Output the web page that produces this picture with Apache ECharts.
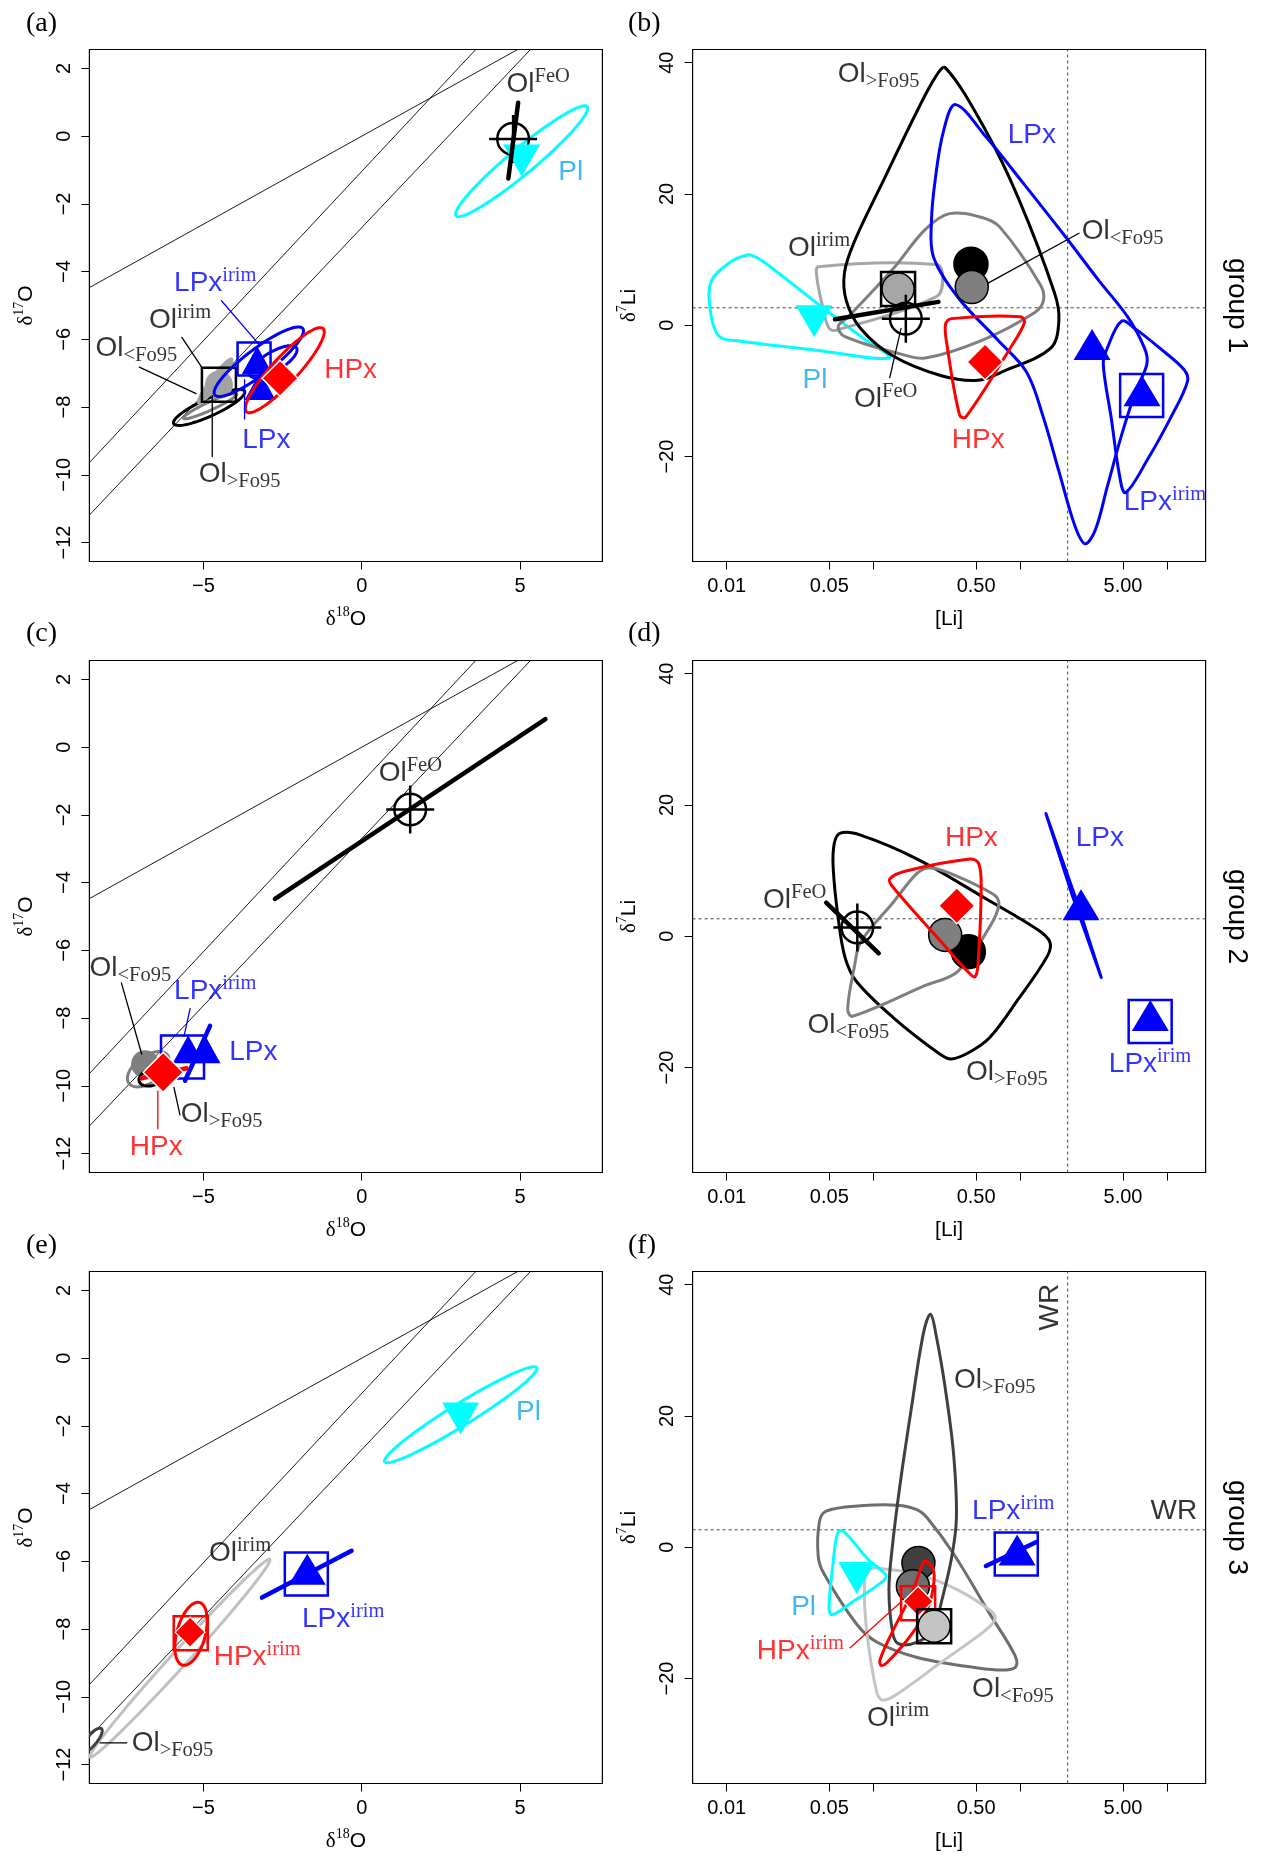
<!DOCTYPE html>
<html><head><meta charset="utf-8">
<script src="https://cdn.jsdelivr.net/npm/echarts@6/dist/echarts.min.js"></script>
<style>html,body{margin:0;padding:0;background:#fff}#c{width:1268px;height:1858px}</style>
</head><body><div id="c"></div>
<script>
const SANS = 'Liberation Sans, Arial, sans-serif';
const SERIF = 'Liberation Serif, Times New Roman, serif';
const K = '#000000', B = '#0000ff', R = '#ff0000', C = '#00ffff', PLC = '#14a5ea', G1 = '#7f7f7f';

// ---- axes ----
const O_XLIM = [-8.6, 7.6], O_YLIM = [-12.56, 2.56];
const O_XTICKS = [-5, 0, 5];
const O_YTICKS = [-12, -10, -8, -6, -4, -2, 0, 2];
const LI_XLIM = [0.00586, 18.27];
const LI_YLIM = [-36, 42];
const LI_XTICKS = [0.01, 0.05, 0.1, 0.5, 1, 5, 10];
const LI_XLABELS = [0.01, 0.05, 0.5, 5];
const LI_XLABEL_TEXT = ['0.01', '0.05', '0.50', '5.00'];
const LI_YTICKS = [-20, 0, 20, 40];

// ---- reference lines [slope, intercept] and whole rock ----
const TFL = [0.52, 0], YR = [1.0, -1.04], PCM = [0.987, -2.70];
const WR_LI = 2.1, WR_D7LI = 2.65;

// ---- panel (a) ----
const a_Pl_ell = [5.05, -0.74, 2.07, 1.61, 0.26, -0.29];
const a_OlGt_ell = [-4.82, -8.01, 1.12, 0.48, 0.12, -0.23];
const a_OlLt_ell = [-4.79, -7.97, 0.84, 0.36, 0.05, -0.11];
const a_OlIrim_ell = [-4.63, -7.23, 0.53, 0.66, 0.126, -0.088];
const a_LPx_ell = [-3.25, -6.66, 1.39, 0.98, 0.246, -0.307];
const a_LPxIrim_ell = [-2.79, -6.66, 0.73, 0.41, 0.16, -0.24];
const a_HPx_ell = [-2.43, -6.91, 1.21, 1.23, 0.30, -0.26];
const a_OlFeO_line = [[4.94, 0.99], [4.63, -1.25]];
const a_OlFeO = [4.78, -0.08];
const a_Pl = [5.05, -0.72];
const a_OlIrim = [-4.51, -7.34];
const a_LPxIrim = [-3.40, -6.58];
const a_LPx = [[-3.30, -6.62], [-3.21, -7.38]];
const a_HPx = [-2.58, -7.15];
const a_leaders = [[[-4.43, -4.86], [-3.25, -6.14], B], [[-5.68, -5.94], [-5.04, -6.84], K], [[-7.02, -6.82], [-5.23, -7.60], K], [[-3.70, -7.19], [-3.70, -8.35], B], [[-4.72, -7.66], [-4.72, -9.46], K]];
const a_labels = [[4.59, 1.53, 'OlFeO'], [6.22, -1.07, 'Pl', PLC], [-5.91, -4.36, 'LPxirim', B], [-6.70, -5.44, 'Olirim'], [-8.39, -6.27, 'OlLt'], [-1.17, -6.92, 'HPx', R], [-3.76, -9.0, 'LPx', B], [-5.13, -10.0, 'OlGt']];

// ---- panel (b) ---- [Li (ppm), d7Li]
const b_OlGt_hull = [[0.309,39.2],[0.583,29.6],[0.968,19.4],[1.71,4.9],[1.83,0.7],[1.61,-3.5],[0.752,-7.1],[0.514,-8.4],[0.290,-7.7],[0.136,-4.7],[0.0817,-0.5],[0.0653,3.7],[0.0634,8.0],[0.0743,12.8],[0.119,22.4],[0.199,32.7],[0.264,37.8]];
const b_LPx_hull = [[0.362,33.6],[0.583,28.7],[1.033,21.8],[1.945,14.0],[3.44,6.75],[5.37,1.3],[7.01,-3.5],[7.28,-5.9],[6.10,-10.1],[4.89,-16.75],[3.91,-24.6],[3.24,-31.2],[2.76,-33.3],[2.355,-30.6],[1.828,-22.2],[1.419,-13.7],[1.099,-7.1],[0.705,-2.3],[0.374,4.3],[0.256,10.4],[0.248,15.8],[0.264,22.4],[0.300,29.6]];
const b_LPxIrim_hull = [[4.89,0.6],[6.10,-0.6],[8.91,-3.5],[13.06,-6.8],[13.74,-8.6],[10.79,-13.7],[7.38,-20.4],[5.20,-25.5],[4.73,-22.8],[4.17,-14.3],[3.67,-5.9],[3.91,-3.5]];
const b_OlIrim_hull = [[0.0422,8.9],[0.270,9.25],[0.296,7.4],[0.270,4.4],[0.0547,-0.8],[0.0493,-0.3],[0.0445,3.3],[0.0411,7.4]];
const b_OlLt_hull = [[0.330,17.0],[0.547,16.4],[0.728,14.9],[1.374,6.1],[1.435,3.7],[1.247,1.9],[0.547,-2.3],[0.2254,-5.0],[0.1538,-4.4],[0.0634,-1.7],[0.0575,-0.2],[0.0675,1.3],[0.1355,8.55],[0.2254,14.6]];
const b_Pl_hull = [[0.0138,10.7],[0.0104,9.5],[0.00782,6.6],[0.00771,2.5],[0.00887,-1.7],[0.01216,-2.4],[0.0406,-3.8],[0.1274,-5.0],[0.0817,-1.7],[0.0461,2.5],[0.0190,9.2],[0.0157,10.4]];
const b_HPx_hull = [[0.340,1.0],[1.0,1.3],[1.067,0.4],[0.853,-3.5],[0.425,-14.0],[0.386,-13.7],[0.319,-3.5],[0.309,0.1]];
const b_OlFeO_line = [[0.0547, 0.9], [0.2767, 3.55]];
const b_Pl = [0.0394, 0.6];
const b_OlIrim = [0.147, 5.5];
const b_OlGt = [0.461, 9.3];
const b_OlLt = [0.467, 5.8];
const b_OlFeO = [0.166, 1.0];
const b_HPx = [0.575, -5.6];
const b_LPx = [3.08, -2.95];
const b_LPxIrim = [6.70, -10.7];
const b_LPxIrimTri = [6.74, -10.0];
const b_leaders = [[[0.129, -8.0], [0.154, -0.5], K], [[2.51, 14.0], [0.59, 6.3], K]];
const b_labels = [[0.0575, 38.2, 'OlGt'], [0.826, 28.85, 'LPx', B], [2.64, 14.3, 'OlLt'], [0.0264, 11.7, 'Olirim'], [0.0331, -8.4, 'Pl', PLC], [0.0743, -11.3, 'OlFeO'], [0.344, -17.6, 'HPx', R], [5.10, -27.05, 'LPxirim', B]];

// ---- panel (c) ----
const c_OlFeO_line = [[-2.74, -4.48], [5.80, 0.83]];
const c_OlFeO = [1.53, -1.84];
const c_OlLt_ell = [-6.74, -9.51, 0.61, 0.42, 0.25, -0.31];
const c_OlGt_ell = [-6.62, -9.74, 0.41, 0.12, 0.06, -0.24];
const c_OlLt = [-6.84, -9.36];
const c_HPx_line = [[-6.95, -9.78], [-5.53, -9.48]];
const c_HPx = [-6.27, -9.60];
const c_LPxIrim = [-5.66, -9.15];
const c_LPx = [[-5.48, -8.92], [-4.95, -8.92]];
const c_LPx_line = [[-4.79, -8.23], [-5.58, -9.85]];
const c_leaders = [[[-7.59, -6.96], [-6.95, -9.06], K], [[-5.74, -10.86], [-5.93, -10.05], K], [[-6.44, -10.16], [-6.44, -11.27], R], [[-5.42, -7.72], [-5.61, -8.53], B]];
const c_labels = [[0.55, -0.79, 'OlFeO'], [-8.58, -6.55, 'OlLt'], [-5.91, -7.23, 'LPxirim', B], [-4.17, -9.03, 'LPx', B], [-5.70, -10.86, 'OlGt'], [-7.31, -11.83, 'HPx', R]];

// ---- panel (d) ----
const d_OlGt_hull = [[0.0594,15.7],[0.0817,15.4],[0.1986,11.75],[0.583,5.7],[1.33,0.9],[1.589,-0.9],[1.531,-3.0],[0.968,-9.6],[0.621,-15.4],[0.453,-17.65],[0.340,-18.7],[0.281,-17.9],[0.1355,-12.35],[0.0766,-6.9],[0.0641,-3.3],[0.0575,2.7],[0.0531,10.5],[0.0541,14.2]];
const d_OlLt_hull = [[0.240,10.4],[0.330,9.6],[0.662,6.3],[0.714,4.8],[0.621,1.5],[0.374,-5.4],[0.2254,-7.5],[0.0719,-12.2],[0.0667,-11.1],[0.0743,-4.5],[0.0817,-0.9],[0.1355,5.1],[0.1986,9.6]];
const d_HPx_hull = [[0.1288,8.7],[0.164,9.9],[0.453,11.75],[0.520,11.1],[0.541,7.5],[0.514,-4.5],[0.489,-6.2],[0.4385,-5.4],[0.290,-0.9],[0.1355,7.5]];
const d_LPx_lens = [[1.493,18.7],[2.356,6.13],[3.556,-6.3],[2.253,6.27]];
const d_OlFeO = [0.0776, 1.33];
const d_OlFeO_line = [[0.0476, 5.1], [0.1086, -2.6]];
const d_OlLt = [0.3076, 0.2];
const d_OlGt = [0.4426, -2.36];
const d_HPx = [0.369, 4.65];
const d_LPx = [2.59, 4.8];
const d_LPxIrim = [7.66, -13.0];
const d_LPxIrimTri = [7.68, -12.1];
const d_labels = [[0.01783, 5.36, 'OlFeO'], [0.309, 14.9, 'HPx', R], [2.40, 14.9, 'LPx', B], [0.0358, -13.6, 'OlLt'], [0.4295, -20.8, 'OlGt'], [4.04, -19.6, 'LPxirim', B]];

// ---- panel (e) ----
const e_Pl_ell = [3.125, -1.67, 2.4, 1.39, 0.184, -0.275];
const e_OlIrim_ell = [-5.74, -8.86, 2.84, 2.92, 0.18, -0.165];
const e_OlGt_ell = [-8.55, -11.3, 0.33, 0.36, 0.13, -0.10];
const e_HPxIrim_ell = [-5.39, -8.14, 0.24, 0.93, 0.45, -0.05];
const e_LPxIrim_line = [[-3.15, -7.07], [-0.32, -5.69]];
const e_LPxIrim = [-1.75, -6.37];
const e_LPxIrimTri = [-1.72, -6.23];
const e_HPxIrim = [-5.40, -8.12];
const e_HPxIrimDia = [-5.42, -8.09];
const e_Pl = [3.125, -1.78];
const e_leaders = [[[-8.26, -11.36], [-7.42, -11.36], K]];
const e_labels = [[4.89, -1.60, 'Pl', PLC], [-4.81, -5.77, 'Olirim'], [-1.87, -7.73, 'LPxirim', B], [-4.66, -8.85, 'HPxirim', R], [-7.25, -11.38, 'OlGt']];

// ---- panel (f) ----
const f_OlGt_hull = [[0.2443,35.5],[0.269,31.9],[0.309,24.0],[0.351,14.2],[0.367,4.45],[0.340,-1.65],[0.290,-8.35],[0.256,-12.6],[0.1986,-14.45],[0.1493,-14.75],[0.1355,-13.2],[0.1274,-6.5],[0.1355,0.8],[0.1538,10.55],[0.1803,20.9],[0.2183,32.5]];
const f_OlLt_hull = [[0.0476,5.5],[0.0817,6.3],[0.1445,6.4],[0.1986,5.7],[0.2323,4.45],[0.351,-1.0],[0.621,-10.2],[0.910,-16.3],[0.938,-18.1],[0.802,-18.7],[0.514,-18.4],[0.1986,-16.8],[0.1052,-14.45],[0.0766,-11.7],[0.0461,-4.1],[0.0420,-1.35],[0.0428,3.85]];
const f_OlIrim_hull = [[0.1052,-3.2],[0.1986,-4.1],[0.374,-6.5],[0.621,-9.6],[0.6745,-10.8],[0.583,-12.6],[0.290,-17.5],[0.1445,-22.4],[0.1156,-23.3],[0.1052,-22.1],[0.0897,-12.6],[0.0869,-5.3],[0.0927,-3.5]];
const f_Pl_hull = [[0.0587,2.5],[0.0653,2.0],[0.0927,-1.95],[0.1211,-4.2],[0.1156,-5.2],[0.0719,-8.35],[0.0524,-10.3],[0.0498,-9.3],[0.0531,-2.3],[0.0558,1.4]];
const f_HPxIrim_hull = [[0.2244,-2.14],[0.2495,-2.9],[0.2588,-4.9],[0.2366,-9.0],[0.1774,-13.6],[0.1233,-17.6],[0.1127,-18.0],[0.1109,-17.1],[0.1368,-12.55],[0.1824,-7.0],[0.2133,-2.9]];
const f_OlGt = [0.2023, -2.39];
const f_OlLt = [0.1854, -5.95];
const f_HPxIrim = [0.2014, -8.54];
const f_HPxIrimDia = [0.2014, -8.23];
const f_OlIrim = [0.2588, -12.04];
const f_Pl = [0.0769, -4.68];
const f_LPxIrim_line = [[0.583, -2.87], [1.288, 0.79]];
const f_LPxIrim = [0.938, -1.04];
const f_LPxIrimTri = [0.951, -0.43];
const f_leaders = [[[0.0693, -15.33], [0.1517, -8.48], R]];
const f_labels = [[0.3556, 25.4, 'OlGt'], [0.473, 5.4, 'LPxirim', B], [0.0277, -9.27, 'Pl', PLC], [0.01618, -15.97, 'HPxirim', R], [0.473, -21.76, 'OlLt'], [0.0909, -26.1, 'Olirim'], [1.609, 36.5, 'WRv'], [7.76, 5.37, 'WR']];

// ---------------- builders ----------------
function ell(p) {
  const [cx, cy, ax, ay, bx, by] = p; const out = [];
  for (let k = 0; k < 72; k++) { const t = k / 72 * 2 * Math.PI; out.push([cx + ax * Math.cos(t) + bx * Math.sin(t), cy + ay * Math.cos(t) + by * Math.sin(t)]); }
  return out;
}
const S = (pts, color, lw, extra) => Object.assign({pts, color, lw: lw || 3, closed: true, smooth: 0.35}, extra || {});
const E = (p, color, lw, extra) => Object.assign({pts: ell(p), color, lw: lw || 3, closed: true, smooth: 0}, extra || {});
const L = (pts, color, lw) => ({pts, color, lw: lw || 1.3, closed: false, smooth: 0});
const LEAD = arr => arr.map(l => L([l[0], l[1]], l[2], 1.3));

const TRANSP = 'rgba(0,0,0,0)';
const MK = {
  feo: {symbol: 'path://M83,50A33,33,0,1,1,17,50A33,33,0,1,1,83,50ZM0,50L100,50M50,0L50,100', size: 48, fill: TRANSP, stroke: K, bw: 2.5},
  triC: {symbol: 'triangle', size: [37, 32], fill: C, rot: 180},
  sqK: {symbol: 'rect', size: 34, fill: TRANSP, stroke: K, bw: 2.5},
  sqBs: {symbol: 'rect', size: 33, fill: TRANSP, stroke: B, bw: 2.5},
  sqB: {symbol: 'rect', size: 43, fill: TRANSP, stroke: B, bw: 2.5},
  sqRs: {symbol: 'rect', size: 34, fill: TRANSP, stroke: R, bw: 2.5},
  triB: {symbol: 'triangle', size: [37, 31], fill: B},
  triBs: {symbol: 'triangle', size: [31, 28], fill: B},
  diaR: {symbol: 'diamond', size: [36, 36], fill: R, stroke: '#fff', bw: 1.5},
  diaRc: {symbol: 'diamond', size: [40, 40], fill: R, stroke: '#fff', bw: 1.5},
  diaRs: {symbol: 'diamond', size: [30, 30], fill: R, stroke: '#fff', bw: 1.2},
  cK: {symbol: 'circle', size: 34, fill: K, stroke: K, bw: 1.5},
  cG: {symbol: 'circle', size: 33, fill: G1, stroke: K, bw: 1.5},
  cGn: {symbol: 'circle', size: 28, fill: G1},
  cLn: {symbol: 'circle', size: 28, fill: '#a3a3a3'},
  cL: {symbol: 'circle', size: 32, fill: '#a6a6a6', stroke: K, bw: 1.5},
  cDf: {symbol: 'circle', size: 33, fill: '#404040', stroke: K, bw: 1.5},
  cGf: {symbol: 'circle', size: 33, fill: '#6e6e6e', stroke: K, bw: 1.5},
  cLf: {symbol: 'circle', size: 32, fill: '#c4c4c4', stroke: K, bw: 1.5}
};

const RICH = {
  m: {fontFamily: SANS, fontSize: 28, lineHeight: 36, verticalAlign: 'middle'},
  sp: {fontFamily: SERIF, fontSize: 20.5, lineHeight: 18, verticalAlign: 'top'},
  sb: {fontFamily: SERIF, fontSize: 20.5, lineHeight: 18, verticalAlign: 'bottom'}
};
const LABEL_TEXT = {
  OlFeO: '{m|Ol}{sp|FeO}', Olirim: '{m|Ol}{sp|irim}', OlLt: '{m|Ol}{sb|<Fo95}', OlGt: '{m|Ol}{sb|>Fo95}',
  LPx: '{m|LPx}', LPxirim: '{m|LPx}{sp|irim}', HPx: '{m|HPx}', HPxirim: '{m|HPx}{sp|irim}', Pl: '{m|Pl}', WR: '{m|WR}', WRv: '{m|WR}'
};

const series = [];
let zc = 1;
const isLiPanel = gi => gi % 2 === 1;
const X = (gi, x) => isLiPanel(gi) ? Math.log10(x) : x;

function addShapes(gi, list) {
  const li = isLiPanel(gi);
  series.push({
    type: 'custom', xAxisIndex: gi, yAxisIndex: gi, z: zc++, clip: true, silent: true, animation: false,
    data: list.map((s, k) => [k]),
    renderItem(params, api) {
      const s = list[params.dataIndex];
      const pts = s.pts.map(p => api.coord([li ? Math.log10(p[0]) : p[0], p[1]]));
      return {type: s.closed ? 'polygon' : 'polyline', shape: {points: pts, smooth: s.smooth || 0},
        style: {stroke: s.color, lineWidth: s.lw, fill: s.fill || 'none', lineCap: 'round', lineJoin: 'round'}};
    }
  });
}
function addMarkers(gi, name, pts) {
  const st = MK[name];
  series.push({
    type: 'scatter', xAxisIndex: gi, yAxisIndex: gi, z: zc++, silent: true, animation: false, clip: false,
    symbol: st.symbol, symbolSize: st.size, symbolRotate: st.rot || 0,
    itemStyle: {color: st.fill, borderColor: st.stroke || st.fill, borderWidth: st.bw || 0, opacity: 1},
    data: pts.map(p => [X(gi, p[0]), p[1]])
  });
}
function addLabels(gi, list) {
  series.push({
    type: 'scatter', xAxisIndex: gi, yAxisIndex: gi, z: zc++, silent: true, animation: false, clip: false,
    symbolSize: 1, itemStyle: {color: TRANSP},
    data: list.map(l => {
      const lab = {color: l[3] || K};
      if (l[2] === 'WRv') { lab.rotate = 90; lab.align = 'center'; }
      return {value: [X(gi, l[0]), l[1]], name: l[2], label: lab};
    }),
    label: {show: true, position: [0, 0], align: 'left', verticalAlign: 'middle', formatter: p => LABEL_TEXT[p.name], rich: RICH, fontFamily: SANS, fontSize: 28}
  });
}
function addRef(gi) {
  for (const [m, b] of [TFL, YR, PCM]) {
    series.push({type: 'line', xAxisIndex: gi, yAxisIndex: gi, z: zc++, silent: true, animation: false, symbol: 'none', clip: true,
      lineStyle: {color: '#000', width: 0.9}, data: [[O_XLIM[0], m * O_XLIM[0] + b], [O_XLIM[1], m * O_XLIM[1] + b]]});
  }
}
function addWR(gi) {
  const ls = {color: '#444', width: 1, type: [3, 3]};
  series.push({type: 'line', xAxisIndex: gi, yAxisIndex: gi, z: zc++, silent: true, animation: false, symbol: 'none', lineStyle: ls,
    data: [[Math.log10(LI_XLIM[0]), WR_D7LI], [Math.log10(LI_XLIM[1]), WR_D7LI]]});
  series.push({type: 'line', xAxisIndex: gi, yAxisIndex: gi, z: zc++, silent: true, animation: false, symbol: 'none', lineStyle: ls,
    data: [[Math.log10(WR_LI), LI_YLIM[0]], [Math.log10(WR_LI), LI_YLIM[1]]]});
}
function build(gi, layers) {
  for (const ly of layers) {
    if (ly.ref) addRef(gi);
    else if (ly.wr) addWR(gi);
    else if (ly.s) addShapes(gi, ly.s);
    else if (ly.m) addMarkers(gi, ly.m, ly.pts);
    else if (ly.l) addLabels(gi, ly.l);
  }
}

// ---- panels ----
build(0, [
  {ref: true},
  {s: [E(a_Pl_ell, C, 3)]},
  {m: 'feo', pts: [a_OlFeO]},
  {m: 'triC', pts: [a_Pl]},
  {s: [L(a_OlFeO_line, K, 4.5)]},
  {s: [E(a_OlGt_ell, K, 3), E(a_OlLt_ell, G1, 3), E(a_OlIrim_ell, '#a3a3a3', 2, {fill: '#a3a3a3'})]},
  {m: 'cLn', pts: [a_OlIrim]},
  {m: 'sqK', pts: [a_OlIrim]},
  {s: [E(a_LPx_ell, B, 3), E(a_LPxIrim_ell, B, 3)]},
  {m: 'sqBs', pts: [a_LPxIrim]},
  {m: 'triBs', pts: a_LPx},
  {s: [E(a_HPx_ell, R, 3)]},
  {m: 'diaR', pts: [a_HPx]},
  {s: LEAD(a_leaders)},
  {l: a_labels}
]);
build(1, [
  {wr: true},
  {s: [S(b_Pl_hull, C), S(b_OlIrim_hull, '#a6a6a6'), S(b_OlLt_hull, G1), S(b_OlGt_hull, K), S(b_LPx_hull, B), S(b_LPxIrim_hull, B), S(b_HPx_hull, R), L(b_OlFeO_line, K, 4.5)].concat(LEAD(b_leaders))},
  {m: 'triC', pts: [b_Pl]},
  {m: 'cK', pts: [b_OlGt]},
  {m: 'cG', pts: [b_OlLt]},
  {m: 'cL', pts: [b_OlIrim]},
  {m: 'sqK', pts: [b_OlIrim]},
  {m: 'feo', pts: [b_OlFeO]},
  {m: 'diaR', pts: [b_HPx]},
  {m: 'triB', pts: [b_LPx, b_LPxIrimTri]},
  {m: 'sqB', pts: [b_LPxIrim]},
  {l: b_labels}
]);
build(2, [
  {ref: true},
  {s: [L(c_OlFeO_line, K, 4.5)]},
  {m: 'feo', pts: [c_OlFeO]},
  {s: [E(c_OlLt_ell, G1, 3)]},
  {m: 'cGn', pts: [c_OlLt]},
  {s: [E(c_OlGt_ell, K, 3)]},
  {m: 'sqB', pts: [c_LPxIrim]},
  {m: 'triBs', pts: c_LPx},
  {s: [L(c_LPx_line, B, 4.5), L(c_HPx_line, R, 4.5)]},
  {m: 'diaRc', pts: [c_HPx]},
  {s: LEAD(c_leaders)},
  {l: c_labels}
]);
build(3, [
  {wr: true},
  {s: [S(d_OlGt_hull, K), S(d_OlLt_hull, G1)]},
  {m: 'cK', pts: [d_OlGt]},
  {m: 'cG', pts: [d_OlLt]},
  {s: [S(d_HPx_hull, R)]},
  {m: 'diaR', pts: [d_HPx]},
  {s: [S(d_LPx_lens, B, 3, {fill: B, smooth: 0})]},
  {m: 'triB', pts: [d_LPx, d_LPxIrimTri]},
  {m: 'sqB', pts: [d_LPxIrim]},
  {s: [L(d_OlFeO_line, K, 4.5)]},
  {m: 'feo', pts: [d_OlFeO]},
  {l: d_labels}
]);
build(4, [
  {ref: true},
  {s: [E(e_OlIrim_ell, '#c0c0c0', 3), E(e_OlGt_ell, '#404040', 3), E(e_Pl_ell, C, 3), E(e_HPxIrim_ell, R, 3)]},
  {m: 'sqRs', pts: [e_HPxIrim]},
  {m: 'diaRs', pts: [e_HPxIrimDia]},
  {s: [L(e_LPxIrim_line, B, 4.5)]},
  {m: 'sqB', pts: [e_LPxIrim]},
  {m: 'triB', pts: [e_LPxIrimTri]},
  {m: 'triC', pts: [e_Pl]},
  {s: LEAD(e_leaders)},
  {l: e_labels}
]);
build(5, [
  {wr: true},
  {s: [S(f_OlLt_hull, '#6e6e6e'), S(f_OlIrim_hull, '#c4c4c4'), S(f_OlGt_hull, '#404040'), S(f_Pl_hull, C)]},
  {m: 'cDf', pts: [f_OlGt]},
  {m: 'cGf', pts: [f_OlLt]},
  {s: [S(f_HPxIrim_hull, R)]},
  {m: 'sqRs', pts: [f_HPxIrim]},
  {m: 'diaRs', pts: [f_HPxIrimDia]},
  {m: 'cLf', pts: [f_OlIrim]},
  {m: 'sqK', pts: [f_OlIrim]},
  {m: 'triC', pts: [f_Pl]},
  {s: [L(f_LPxIrim_line, B, 4.5)]},
  {m: 'sqB', pts: [f_LPxIrim]},
  {m: 'triB', pts: [f_LPxIrimTri]},
  {s: LEAD(f_leaders)},
  {l: f_labels}
]);

// ---- grids & axes ----
const COLX = [89.4, 692.6], W = 513, H = 512, ROWY = [49.5, 660.5, 1271.5];
const minus = v => (v < 0 ? '\u2212' + Math.abs(v) : String(v));
function fmtLi(v) {
  for (let i = 0; i < LI_XLABELS.length; i++) if (Math.abs(Math.log10(LI_XLABELS[i]) - v) < 1e-6) return LI_XLABEL_TEXT[i];
  return '';
}
const grids = [], xAxes = [], yAxes = [];
const tick = {show: true, inside: false, length: 8, lineStyle: {color: '#000', width: 1}};
const labBase = {fontFamily: SANS, fontSize: 20, color: '#000'};
for (let gi = 0; gi < 6; gi++) {
  const col = gi % 2, row = Math.floor(gi / 2), li = col === 1;
  grids.push({left: COLX[col], top: ROWY[row], width: W, height: H, show: true, borderColor: '#000', borderWidth: 1.2, backgroundColor: TRANSP, containLabel: false});
  xAxes.push({type: 'value', gridIndex: gi, position: 'bottom',
    min: li ? Math.log10(LI_XLIM[0]) : O_XLIM[0], max: li ? Math.log10(LI_XLIM[1]) : O_XLIM[1],
    axisLine: {show: false, onZero: false}, splitLine: {show: false},
    axisTick: Object.assign({customValues: li ? LI_XTICKS.map(v => Math.log10(v)) : O_XTICKS}, tick),
    axisLabel: Object.assign({customValues: li ? LI_XLABELS.map(v => Math.log10(v)) : O_XTICKS, formatter: li ? fmtLi : minus, margin: 15}, labBase)});
  yAxes.push({type: 'value', gridIndex: gi, position: 'left',
    min: li ? LI_YLIM[0] : O_YLIM[0], max: li ? LI_YLIM[1] : O_YLIM[1],
    axisLine: {show: false, onZero: false}, splitLine: {show: false},
    axisTick: Object.assign({customValues: li ? LI_YTICKS : O_YTICKS}, tick),
    axisLabel: Object.assign({customValues: li ? LI_YTICKS : O_YTICKS, formatter: minus, margin: 15, rotate: 90}, labBase)});
}

// ---- titles and panel text ----
const graphic = [];
const LETTERS = ['(a)', '(b)', '(c)', '(d)', '(e)', '(f)'];
const LETTER_Y = [24, 634, 1246];
const TRICH = {
  d: {fontFamily: SERIF, fontSize: 21, lineHeight: 28, verticalAlign: 'middle'},
  s: {fontFamily: SERIF, fontSize: 14, lineHeight: 14, verticalAlign: 'top'},
  o: {fontFamily: SANS, fontSize: 21, lineHeight: 28, verticalAlign: 'middle'}
};
for (let gi = 0; gi < 6; gi++) {
  const col = gi % 2, row = Math.floor(gi / 2), li = col === 1;
  graphic.push({type: 'text', x: col ? 628 : 26, y: LETTER_Y[row], silent: true,
    style: {text: LETTERS[gi], fontFamily: SERIF, fontSize: 28, fill: '#000', align: 'left', verticalAlign: 'middle'}});
  graphic.push({type: 'text', x: COLX[col] + W / 2, y: ROWY[row] + H + 58, silent: true,
    style: {text: li ? '{o|[Li]}' : '{d|\u03b4}{s|18}{o|O}', rich: TRICH, fill: '#000', align: 'center', verticalAlign: 'middle'}});
  graphic.push({type: 'text', x: COLX[col] - 63, y: ROWY[row] + H / 2, rotation: Math.PI / 2, silent: true,
    style: {text: li ? '{d|\u03b4}{s|7}{o|Li}' : '{d|\u03b4}{s|17}{o|O}', rich: TRICH, fill: '#000', align: 'center', verticalAlign: 'middle'}});
  if (li) graphic.push({type: 'text', x: 1237, y: ROWY[row] + H / 2, rotation: -Math.PI / 2, silent: true,
    style: {text: 'group ' + (row + 1), fontFamily: SANS, fontSize: 28, fill: '#000', align: 'center', verticalAlign: 'middle'}});
}

const chart = echarts.init(document.getElementById('c'), null, {renderer: 'canvas', width: 1268, height: 1858});
chart.setOption({
  animation: false, backgroundColor: '#ffffff',
  grid: grids, xAxis: xAxes, yAxis: yAxes, series: series, graphic: graphic
});
</script></body></html>
